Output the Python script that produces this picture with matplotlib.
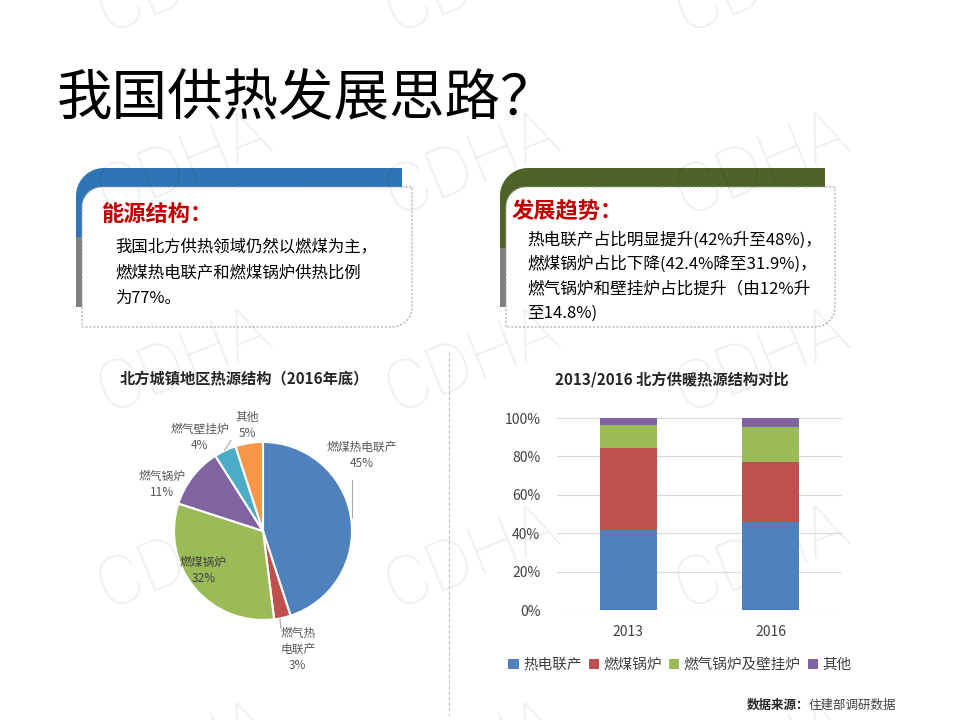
import numpy as np
import matplotlib
matplotlib.use("Agg")
import matplotlib.pyplot as plt
from matplotlib.path import Path
from matplotlib.patches import PathPatch, Rectangle

plt.rcParams['font.family'] = ['Noto Sans CJK SC', 'DejaVu Sans']

# --- data ---
pie_labels = ["燃煤热电联产", "燃气热\n电联产", "燃煤锅炉", "燃气锅炉", "燃气壁挂炉", "其他"]
pie_values = [45, 3, 32, 11, 4, 5]
pie_colors = ["#4F81BD", "#C0504D", "#9BBB59", "#8064A2", "#4BACC6", "#F79646"]

years = ["2013", "2016"]
chp = [0.417, 0.459]
coal_boiler = [0.428, 0.313]
gas_boiler = [0.118, 0.179]
other = [0.037, 0.049]
bar_series = ["热电联产", "燃煤锅炉", "燃气锅炉及壁挂炉", "其他"]
bar_colors = ["#4F81BD", "#C0504D", "#9BBB59", "#8064A2"]

left_lines = ["我国北方供热领域仍然以燃煤为主，",
              "燃煤热电联产和燃煤锅炉供热比例",
              "为77%。"]
right_lines = ["热电联产占比明显提升(42%升至48%)，",
               "燃煤锅炉占比下降(42.4%降至31.9%)，",
               "燃气锅炉和壁挂炉占比提升（由12%升",
               "至14.8%)"]

W, H = 960, 720
fig = plt.figure(figsize=(W / 100, H / 100), dpi=100)
bg = fig.add_axes([0, 0, 1, 1])
bg.set_xlim(0, W)
bg.set_ylim(H, 0)
bg.axis("off")


def arc(cx, cy, r, a0, a1, n=20):
    t = np.radians(np.linspace(a0, a1, n))
    return list(zip(cx + r * np.cos(t), cy + r * np.sin(t)))


def tab_box(x0, x1, xw, y0, yb, yg, ybot, color):
    # colored tab with rounded top-left corner (y axis points down)
    r = 28
    pts = [(x0, yb)] + arc(x0 + r, y0 + r, r, 180, 270) + [(x1, y0), (x1, yb), (x0, yb)]
    bg.add_patch(PathPatch(Path(pts, closed=True), facecolor=color, edgecolor="none", zorder=1))
    bg.add_patch(Rectangle((x0, yg), 6, yb - yg, facecolor="#7F7F7F", edgecolor="none", zorder=1))
    # white box with dashed outline
    xl, yt, r2 = x0 + 6, y0 + 19, 20
    pts = arc(xl + r2, yt + r2, r2, 180, 270) + [(xw, yt)] + \
        arc(xw - r2, ybot - r2, r2, 0, 90) + [(xl, ybot), (xl, yt + r2)]
    bg.add_patch(PathPatch(Path(pts, closed=True), facecolor="white",
                           edgecolor="#A6A6A6", lw=0.8, ls=(0, (2, 1.5)), zorder=2))


tab_box(76, 402, 412, 168, 307, 237, 327, "#2E75B6")
tab_box(500, 825, 835, 168, 307, 248, 327, "#4F6228")

# --- watermark (behind chart marks, over the boxes) ---
for wy in [-18, 165, 362, 558, 755]:
    for wx in [184, 472, 762]:
        bg.text(wx, wy, "CDHA", fontsize=50, rotation=22, ha="center", va="center",
                family=["Roboto", "DejaVu Sans"], fontweight="light",
                color="black", alpha=0.07, zorder=3)

bg.text(57, 100, "我国供热发展思路？", fontsize=40, va="center", ha="left", color="black", zorder=6)

bg.text(102, 214, "能源结构：", fontsize=16, fontweight="bold", color="#C00000", va="center", zorder=6)
for i, line in enumerate(left_lines):
    bg.text(115, 247 + i * 25.5, line, fontsize=11.8, va="center", color="black", zorder=6)

bg.text(512, 212, "发展趋势：", fontsize=16, fontweight="bold", color="#C00000", va="center", zorder=6)
for i, line in enumerate(right_lines):
    bg.text(527, 240 + i * 24.3, line, fontsize=12, va="center", color="black", zorder=6)

# divider
bg.plot([449, 449], [352, 715], color="#BFBFBF", lw=0.8, ls=(0, (3, 2)), zorder=4)

bg.text(244, 379, "北方城镇地区热源结构（2016年底）", fontsize=11, fontweight="bold",
        ha="center", va="center", color="#262626", zorder=6)
bg.text(672, 381, "2013/2016 北方供暖热源结构对比", fontsize=11, fontweight="bold",
        ha="center", va="center", color="#262626", zorder=6)

bg.text(747, 705, "数据来源：", fontsize=9, fontweight="bold", va="center", color="#262626", zorder=6)
bg.text(809, 705, "住建部调研数据", fontsize=9, va="center", color="#404040", zorder=6)

# --- pie ---
cx, cy, rad = 263, 531, 89
pax = fig.add_axes([(cx - rad) / W, 1 - (cy + rad) / H, 2 * rad / W, 2 * rad / H])
pax.set_facecolor("none")
pax.pie(pie_values, colors=pie_colors, startangle=90, counterclock=False,
        wedgeprops=dict(edgecolor="white", linewidth=1.5))
pax.set_xlim(-1, 1)
pax.set_ylim(-1, 1)
pax.set_aspect("equal")

label_pos = [(1.11, 0.85), (0.39, -1.33), (-0.67, -0.44), (-1.13, 0.52), (-0.71, 1.05), (-0.18, 1.19)]
for lab, val, (lx, ly) in zip(pie_labels, pie_values, label_pos):
    col = "#404040" if lab == "燃煤锅炉" else "#595959"
    pax.text(lx, ly, f"{lab}\n{val}%", fontsize=8.5, ha="center", va="center",
             color=col, linespacing=1.3, clip_on=False)
for (xa, ya), (xb, yb) in [((1.0, 0.57), (1.0, 0.16)), ((0.19, -0.98), (0.2, -1.09)),
                           ((-0.43, 0.91), (-0.36, 1.02))]:
    pax.plot([xa, xb], [ya, yb], color="#A6A6A6", lw=0.8, clip_on=False)

# --- stacked bars ---
bax = fig.add_axes([557 / W, 1 - 610 / H, 285 / W, 192 / H])
bax.set_facecolor("none")
x = np.arange(len(years))
bottom = np.zeros(len(years))
for name, vals, col in zip(bar_series, [chp, coal_boiler, gas_boiler, other], bar_colors):
    bax.bar(x, vals, 0.4, bottom=bottom, color=col, label=name, zorder=2)
    bottom += np.array(vals)
bax.set_xlim(-0.5, 1.5)
bax.set_ylim(0, 1)
bax.set_yticks(np.linspace(0, 1, 6))
bax.set_yticklabels([f"{int(round(v * 100))}%" for v in np.linspace(0, 1, 6)])
bax.set_xticks(x)
bax.set_xticklabels(years)
bax.grid(axis="y", color="#D9D9D9", lw=0.8, zorder=0)
for s in bax.spines.values():
    s.set_visible(False)
bax.tick_params(axis="y", length=0, pad=12, labelsize=10, labelcolor="#404040")
bax.tick_params(axis="x", length=0, pad=11, labelsize=10, labelcolor="#404040")
bax.legend(loc="center", bbox_to_anchor=(0.432, -0.287), ncol=4, frameon=False,
           fontsize=10.5, handlelength=0.7, handleheight=0.7, columnspacing=0.5,
           handletextpad=0.3, labelcolor="#404040")

fig.savefig("out.png", dpi=100)
